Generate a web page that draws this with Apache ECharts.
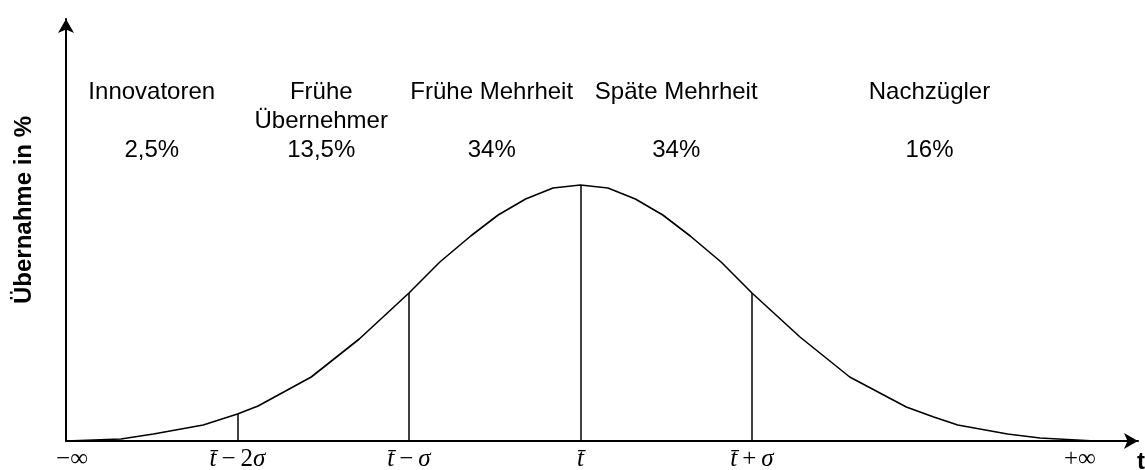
<!DOCTYPE html>
<html>
<head>
<meta charset="utf-8">
<script src="https://cdn.jsdelivr.net/npm/echarts@6/dist/echarts.min.js"></script>
<style>
html,body{margin:0;padding:0;background:#fff;}
#c{width:1145px;height:470px;}
</style>
</head>
<body>
<div id="c"></div>
<script>
// ---- data (x in units of sigma around the mean, y = adoption density) ----
const curveX = [-3.0, -2.68, -2.49, -2.2, -2.0, -1.88, -1.57, -1.29, -1.0, -0.82, -0.64, -0.48, -0.32, -0.16, 0,
                0.16, 0.32, 0.48, 0.64, 0.82, 1.0, 1.28, 1.57, 1.9, 2.06, 2.2, 2.49, 2.68, 3.0];
const curveY = [0, 0.2, 0.7, 1.6, 2.7, 3.5, 6.4, 10.2, 14.8, 17.9, 20.5, 22.6, 24.2, 25.3, 25.6,
                25.3, 24.2, 22.6, 20.5, 17.9, 14.8, 10.4, 6.4, 3.4, 2.4, 1.6, 0.7, 0.3, 0];
const markerX = [-2, -1, 0, 1];
const tickValues = [-3, -2, -1, 0, 1, 2, 3];
const tickLabels = ['−∞', 't\u0304\u2009−\u20092σ', 't\u0304\u2009−\u2009σ', 't\u0304', 't\u0304\u2009+\u2009σ', '', '+∞'];
const segmentBounds = [-3, -2, -1, 0, 1, 3];
const groupNames = ['Innovatoren', 'Frühe\nÜbernehmer', 'Frühe Mehrheit', 'Späte Mehrheit', 'Nachzügler'];
const groupShares = ['2,5%', '13,5%', '34%', '34%', '16%'];
const yAxisTitle = 'Übernahme in %';
const xAxisTitle = 't';

const SANS = "'Liberation Sans', Arial, Helvetica, sans-serif";
const SERIF = "'Liberation Serif', 'Times New Roman', 'DejaVu Serif', serif";
const groupTextShift = [0, -2, -3, 10, 6];   // small layout nudges (px)

function yAt(x) {
  const i = curveX.indexOf(x);
  return curveY[i];
}

function richLabel(s) {
  const chars = Array.from(s);
  let out = '', buf = '', cur = null;
  for (let i = 0; i < chars.length; i++) {
    let ch = chars[i];
    if (chars[i + 1] === '\u0304') { ch += '\u0304'; i++; }
    const st = (ch[0] === 't' || ch[0] === 'σ') ? 'i' : 'n';
    if (st !== cur) {
      if (buf) out += '{' + cur + '|' + buf + '}';
      buf = ''; cur = st;
    }
    buf += ch;
  }
  if (buf) out += '{' + cur + '|' + buf + '}';
  return out;
}

const chart = echarts.init(document.getElementById('c'), null, {renderer: 'canvas'});

const option = {
  animation: false,
  backgroundColor: '#ffffff',
  grid: {left: 66, right: 7, top: 19, bottom: 29, containLabel: false, outerBoundsMode: 'none'},
  xAxis: {
    type: 'value',
    min: -3,
    max: 3.251,
    interval: 1,
    axisLine: {show: true, onZero: false, lineStyle: {color: '#000', width: 2}, symbol: ['none', 'arrow'], symbolSize: [12, 14]},
    axisTick: {show: false},
    splitLine: {show: false},
    axisLabel: {
      show: true,
      margin: 6,
      showMinLabel: true,
      showMaxLabel: false,
      hideOverlap: false,
      color: '#000',
      fontSize: 25,
      fontFamily: SERIF,
      formatter: function (v) {
        const idx = tickValues.findIndex(t => Math.abs(t - v) < 1e-9);
        if (idx < 0) return '';
        const s = tickLabels[idx];
        if (!s) return '';
        if (idx === 0) return '{ninf|' + s + '}';
        if (idx === tickValues.length - 1) return '{pinf|' + s + '}';
        return richLabel(s);
      },
      rich: {
        i: {fontFamily: SERIF, fontStyle: 'italic', fontSize: 25, color: '#000'},
        n: {fontFamily: SERIF, fontStyle: 'normal', fontSize: 25, color: '#000'},
        ninf: {fontFamily: SERIF, fontSize: 25, color: '#000', padding: [0, 0, 0, 12]},
        pinf: {fontFamily: SERIF, fontSize: 25, color: '#000', padding: [0, 30, 0, 0]}
      }
    }
  },
  yAxis: {
    type: 'value',
    min: 0,
    max: 42.2,
    axisLine: {show: true, onZero: false, lineStyle: {color: '#000', width: 2}, symbol: ['none', 'arrow'], symbolSize: [12, 14]},
    axisTick: {show: false},
    axisLabel: {show: false},
    splitLine: {show: false}
  },
  series: [{
    type: 'line',
    data: curveX.map((x, i) => [x, curveY[i]]),
    showSymbol: false,
    symbol: 'none',
    smooth: false,
    lineStyle: {color: '#000', width: 1.6},
    z: 3,
    markLine: {
      silent: true,
      symbol: ['none', 'none'],
      label: {show: false},
      lineStyle: {color: '#000', width: 1.5, type: 'solid'},
      data: markerX.map(x => [{coord: [x, 0]}, {coord: [x, yAt(x)]}])
    }
  }]
};

chart.setOption(option);

// annotation texts placed at the middle of each segment (through the axis scale)
const graphics = [];
for (let k = 0; k < groupNames.length; k++) {
  const mid = (segmentBounds[k] + segmentBounds[k + 1]) / 2;
  const px = chart.convertToPixel({gridIndex: 0}, [mid, 0])[0] + groupTextShift[k];
  graphics.push({
    type: 'text', x: px, y: 78, silent: true,
    style: {text: groupNames[k], font: '24px ' + SANS, fill: '#000', align: 'center', verticalAlign: 'top', lineHeight: 29}
  });
  graphics.push({
    type: 'text', x: px, y: 136, silent: true,
    style: {text: groupShares[k], font: '24px ' + SANS, fill: '#000', align: 'center', verticalAlign: 'top', lineHeight: 29}
  });
}
graphics.push({
  type: 'text', x: 24, y: 210, rotation: Math.PI / 2, silent: true,
  style: {text: yAxisTitle, font: 'bold 24px ' + SANS, fill: '#000', align: 'center', verticalAlign: 'middle'}
});
graphics.push({
  type: 'text', x: 1137, y: 462, silent: true,
  style: {text: xAxisTitle, font: 'bold 24px ' + SANS, fill: '#000', align: 'left', verticalAlign: 'middle'}
});
chart.setOption({graphic: graphics});
</script>
</body>
</html>
